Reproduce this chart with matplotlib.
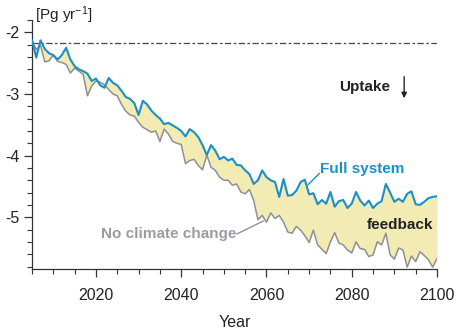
import numpy as np
import matplotlib
matplotlib.use("Agg")
import matplotlib.pyplot as plt

plt.rcParams['font.family'] = ['Liberation Sans', 'DejaVu Sans']
plt.rcParams['mathtext.fontset'] = 'custom'
plt.rcParams['mathtext.rm'] = 'Liberation Sans'
plt.rcParams['mathtext.it'] = 'Liberation Sans'
plt.rcParams['mathtext.default'] = 'regular'

years = np.arange(2005, 2101)

full_system = [
    -2.13, -2.41, -2.13, -2.27, -2.34, -2.37, -2.44, -2.37, -2.25, -2.44,   # 2005-2014
    -2.55, -2.60, -2.63, -2.67, -2.79, -2.75, -2.86, -2.90, -2.74, -2.82,   # 2015-2024
    -2.86, -2.95, -3.05, -3.08, -3.15, -3.34, -3.11, -3.17, -3.27, -3.34,   # 2025-2034
    -3.40, -3.49, -3.47, -3.51, -3.55, -3.60, -3.69, -3.57, -3.62, -3.70,   # 2035-2044
    -3.83, -3.99, -3.83, -3.92, -4.06, -4.02, -4.08, -4.05, -4.15, -4.16,   # 2045-2054
    -4.24, -4.30, -4.46, -4.40, -4.24, -4.35, -4.40, -4.43, -4.67, -4.38,   # 2055-2064
    -4.65, -4.64, -4.57, -4.43, -4.39, -4.63, -4.61, -4.79, -4.72, -4.78,   # 2065-2074
    -4.59, -4.83, -4.74, -4.72, -4.85, -4.78, -4.59, -4.73, -4.81, -4.73,   # 2075-2084
    -4.85, -4.78, -4.74, -4.46, -4.60, -4.75, -4.70, -4.75, -4.62, -4.58,   # 2085-2094
    -4.79, -4.80, -4.75, -4.69, -4.67, -4.66,                               # 2095-2100
]

no_climate_change = [
    -2.13, -2.28, -2.21, -2.48, -2.46, -2.37, -2.47, -2.49, -2.52, -2.66,   # 2005-2014
    -2.58, -2.63, -2.68, -3.03, -2.87, -2.79, -2.81, -2.85, -2.93, -3.00,   # 2015-2024
    -3.03, -3.17, -3.28, -3.34, -3.36, -3.46, -3.54, -3.58, -3.62, -3.60,   # 2025-2034
    -3.77, -3.57, -3.65, -3.77, -3.80, -3.82, -4.13, -4.08, -4.06, -4.16,   # 2035-2044
    -4.23, -3.99, -4.19, -4.24, -4.35, -4.40, -4.40, -4.48, -4.46, -4.59,   # 2045-2054
    -4.62, -4.55, -4.73, -5.04, -4.97, -5.08, -4.93, -5.02, -4.97, -5.08,   # 2055-2064
    -5.24, -5.26, -5.15, -5.21, -5.30, -5.41, -5.21, -5.45, -5.52, -5.59,   # 2065-2074
    -5.40, -5.25, -5.42, -5.45, -5.53, -5.58, -5.40, -5.51, -5.52, -5.64,   # 2075-2084
    -5.61, -5.40, -5.45, -5.26, -5.61, -5.68, -5.50, -5.53, -5.81, -5.63,   # 2085-2094
    -5.72, -5.56, -5.62, -5.69, -5.81, -5.67,                               # 2095-2100
]

reference_level = -2.17

BLUE = '#1a8fcb'
GREY = '#8e9093'
FILL = '#f3ebb4'
DARK = '#222222'

fig = plt.figure(figsize=(4.58, 3.30), dpi=100)
ax = fig.add_axes([32 / 458, 1 - 269 / 330, (437 - 32) / 458, (269 - 20) / 330])

ax.fill_between(years, full_system, no_climate_change, color=FILL, lw=0, zorder=1)
ax.plot(years, no_climate_change, color=GREY, lw=1.1, zorder=2)
ax.plot(years, full_system, color=BLUE, lw=1.5, zorder=3)
ax.axhline(reference_level, color='#444444', lw=0.9, dashes=(5, 2, 2, 2), zorder=0)

ax.set_xlim(2005, 2100)
ax.set_ylim(-5.84, -1.8)

ax.set_xticks(np.arange(2020, 2101, 20))
ax.set_xticks(np.arange(2005, 2101, 5), minor=True)
ax.set_yticks([-2, -3, -4, -5])
ax.set_yticklabels(['-2', '-3', '-4', '-5'])
ax.set_yticks(np.arange(-5.8, -1.75, 0.2), minor=True)

for side in ('top', 'right'):
    ax.spines[side].set_visible(False)
for side in ('left', 'bottom'):
    ax.spines[side].set_linewidth(0.9)
    ax.spines[side].set_color('#333333')

ax.tick_params(axis='both', which='major', direction='out', length=6, width=0.9,
               color='#333333', labelsize=11.5, labelcolor=DARK, pad=3)
ax.tick_params(axis='both', which='minor', direction='out', length=3.5, width=0.8,
               color='#333333')
ax.tick_params(axis='x', which='major', pad=8)

ax.set_xlabel('Year', fontsize=11.5, color=DARK, labelpad=8)
fig.text(35 / 458, 1 - 15 / 330, '[Pg yr$^{-1}$]', fontsize=11, color=DARK,
         ha='left', va='center')

# annotations
ax.text(2083.1, -2.89, 'Uptake', fontsize=11, fontweight='bold', color=DARK,
        ha='center', va='center')
ax.annotate('', xy=(2092.3, -3.07), xytext=(2092.3, -2.72),
            arrowprops=dict(arrowstyle='-|>', color=DARK, lw=1.0,
                            mutation_scale=8, shrinkA=0, shrinkB=0))

ax.text(2072.6, -4.21, 'Full system', fontsize=11, fontweight='bold', color=BLUE,
        ha='left', va='center')
ax.plot([2069.8, 2072.4], [-4.47, -4.29], color=BLUE, lw=1.0)

ax.text(2053.0, -5.27, 'No climate change', fontsize=11, fontweight='bold',
        color='#999ca0', ha='right', va='center')
ax.plot([2053.1, 2059.3], [-5.27, -5.06], color=GREY, lw=1.0)

ax.text(2099.1, -5.13, 'feedback', fontsize=11, fontweight='bold', color=DARK,
        ha='right', va='center')

fig.savefig('out.png', dpi=100)
